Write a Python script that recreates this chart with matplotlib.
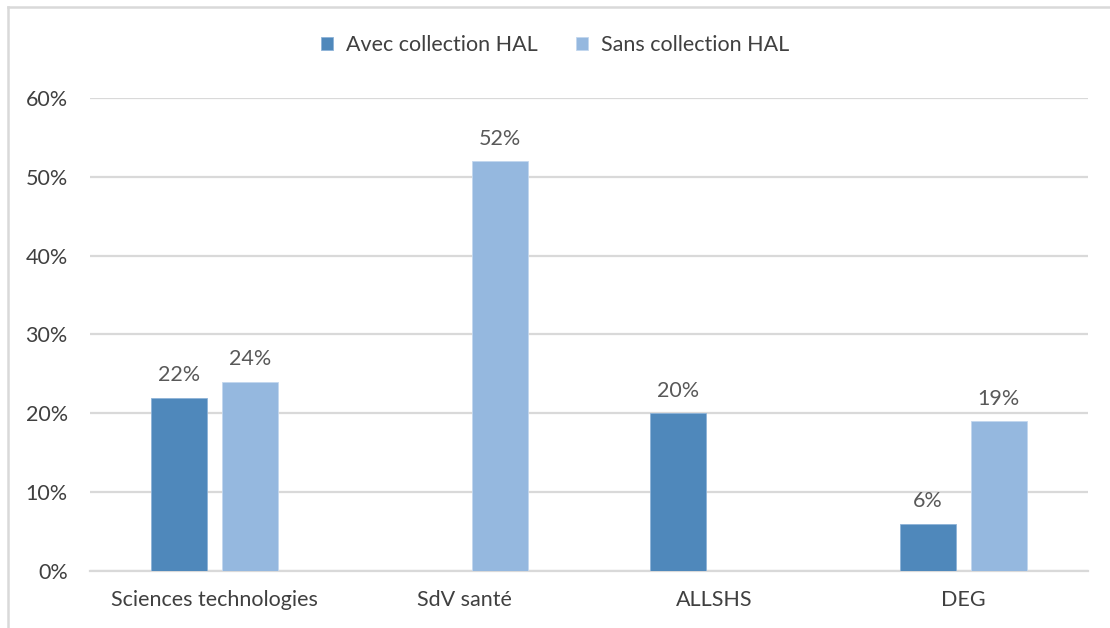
import numpy as np
import matplotlib.pyplot as plt
from matplotlib.lines import Line2D

# données
categories = ['Sciences technologies', 'SdV santé', 'ALLSHS', 'DEG']
avec_hal = [0.22, 0, 0.20, 0.06]
sans_hal = [0.24, 0.52, 0, 0.19]
series_names = ['Avec collection HAL', 'Sans collection HAL']
yticks = [0, 0.1, 0.2, 0.3, 0.4, 0.5, 0.6]

c_avec = '#4F88BB'
c_sans = '#95B8DF'

plt.rcParams['font.family'] = ['Lato', 'DejaVu Sans']
fs = 15.5

fig = plt.figure(figsize=(11.1, 6.28), dpi=100)
ax = fig.add_axes([0.0811, 0.0908, 0.899, 0.7532])

x = np.arange(len(categories))
w = 0.224
off = 0.142
b1 = ax.bar(x - off, avec_hal, w, color=c_avec, edgecolor='#8EB3D8', linewidth=0.6, zorder=3, label=series_names[0])
b2 = ax.bar(x + off, sans_hal, w, color=c_sans, edgecolor='#C3D7EE', linewidth=0.6, zorder=3, label=series_names[1])

# étiquettes de données (pas de zéro)
for bars, vals in [(b1, avec_hal), (b2, sans_hal)]:
    for r, v in zip(bars, vals):
        if v > 0:
            ax.annotate('{:.0f}%'.format(v * 100), (r.get_x() + r.get_width() / 2, v),
                        xytext=(0, 9), textcoords='offset points', ha='center', va='bottom',
                        fontsize=fs, color='#595959')

ax.set_xlim(-0.5, len(categories) - 0.5)
ax.set_ylim(0, 0.6)
ax.set_yticks(yticks)
ax.set_yticklabels(['{:.0f}%'.format(t * 100) for t in yticks])
ax.set_xticks(x)
ax.set_xticklabels(categories)
ax.tick_params(axis='both', length=0, labelsize=fs, labelcolor='#404040')
ax.tick_params(axis='y', pad=16)
ax.tick_params(axis='x', pad=14)
ax.grid(axis='y', color='#D9D9D9', linewidth=1.6, zorder=0)
for s in ['top', 'right', 'left']:
    ax.spines[s].set_visible(False)
ax.spines['bottom'].set_color('#D9D9D9')
ax.spines['bottom'].set_linewidth(1.6)

leg = fig.legend(handles=[b1, b2], loc='center', bbox_to_anchor=(0.5, 0.928), ncol=2, frameon=False,
                 fontsize=fs, handlelength=0.55, handleheight=0.55, handletextpad=0.6, columnspacing=1.8)
for t in leg.get_texts():
    t.set_color('#404040')

# cadre gris (gauche et haut)
fig.add_artist(Line2D([8 / 1110, 8 / 1110], [0, 1 - 7 / 628], transform=fig.transFigure, color='#D9D9D9', linewidth=1.8))
fig.add_artist(Line2D([8 / 1110, 1], [1 - 7 / 628, 1 - 7 / 628], transform=fig.transFigure, color='#D9D9D9', linewidth=1.8))

plt.savefig('out.png', dpi=100)
